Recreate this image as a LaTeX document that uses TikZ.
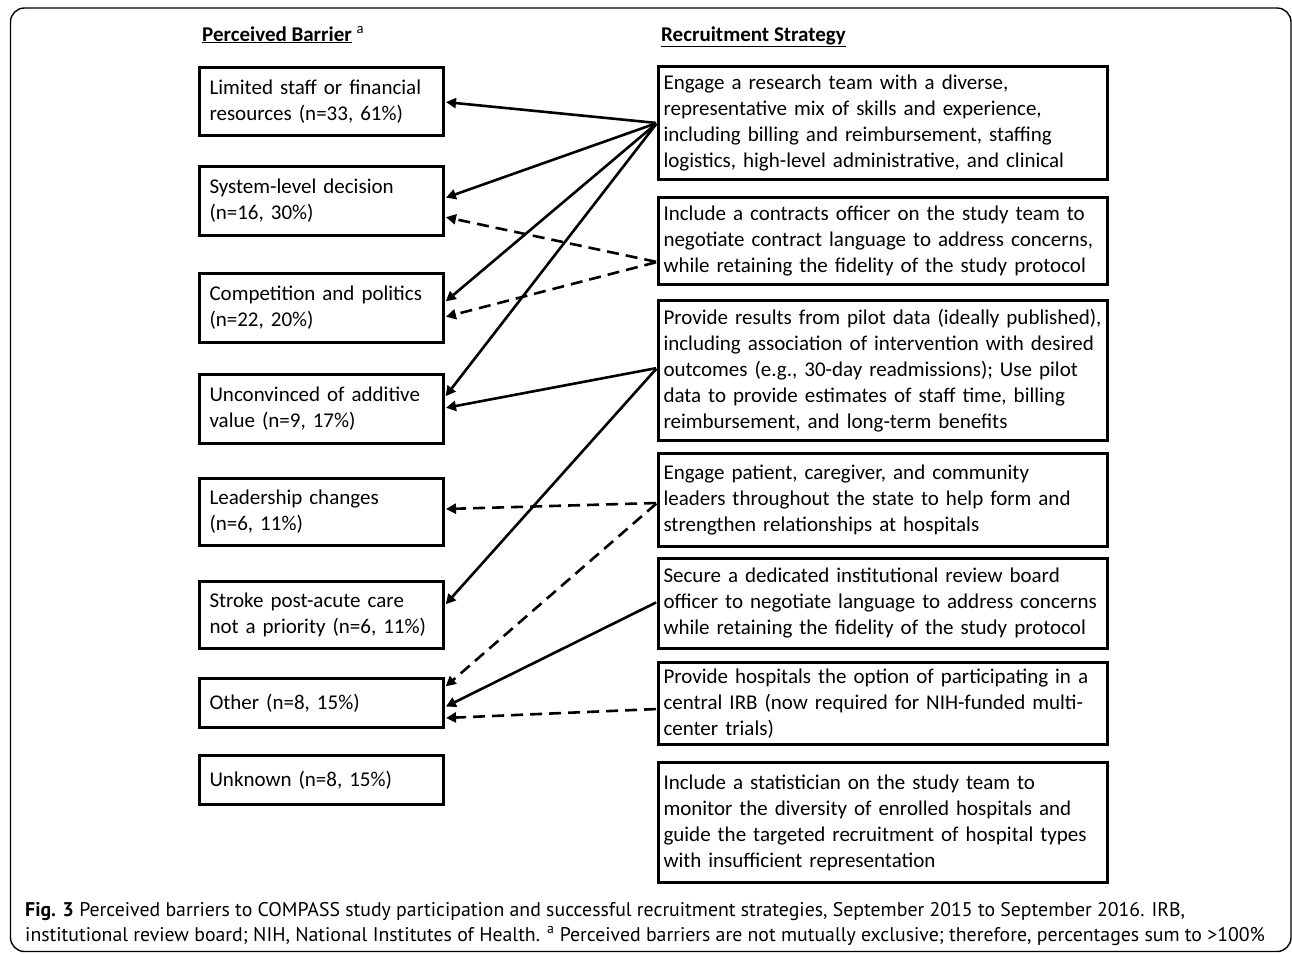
\documentclass[tikz,border=0pt]{standalone}
\usepackage{fontspec}
\setmainfont{Carlito}
\newfontfamily\capfont{PT Sans}
\usetikzlibrary{arrows.meta}
\begin{document}
\begin{tikzpicture}[x=1pt,y=-1pt,
  boxfont/.style={font=\fontsize{21}{26}\selectfont},
  lbox/.style={draw, line width=3pt, rectangle, align=left, text width=224pt,
    inner xsep=10pt, inner ysep=0pt, boxfont, anchor=north west},
  rbox/.style={draw, line width=3pt, rectangle, align=left, text width=439pt,
    inner xsep=5pt, inner ysep=0pt, boxfont, anchor=north west},
  head/.style={font=\fontsize{21}{24}\selectfont, anchor=base west, inner sep=0pt},
  capline/.style={font=\capfont\fontsize{19.8}{24}\selectfont, anchor=base west, inner sep=0pt},
  link/.style={line width=2.6pt, -{Triangle[length=10pt,width=10pt]}, shorten >=1pt, shorten <=1pt},
  dlink/.style={link, dash pattern=on 12pt off 7pt},
]
\useasboundingbox (0,0) rectangle (1292,954);
\draw[line width=1.4pt, rounded corners=14pt] (10.5,8) rectangle (1291,951.5);

% headers
\node[head] (hl) at (202,41) {\textbf{\underline{Perceived Barrier}} \textsuperscript{a}};
\node[head] (hr) at (661,41) {\textbf{\underline{Recruitment Strategy}}};

% left boxes
\node[lbox, minimum height=68pt] (l1) at (198,66) {Limited staff or financial\\resources (n=33, 61\%)};
\node[lbox, minimum height=69pt] (l2) at (198,165) {System-level decision\\(n=16, 30\%)};
\node[lbox, minimum height=69pt] (l3) at (198,272) {Competition and politics\\(n=22, 20\%)};
\node[lbox, minimum height=69pt] (l4) at (198,373) {Unconvinced of additive\\value (n=9, 17\%)};
\node[lbox, minimum height=67pt] (l5) at (198,477) {Leadership changes\\(n=6, 11\%)};
\node[lbox, minimum height=67pt] (l6) at (198,580) {Stroke post-acute care\\not a priority (n=6, 11\%)};
\node[lbox, minimum height=49pt] (l7) at (198,677) {Other (n=8, 15\%)};
\node[lbox, minimum height=49pt] (l8) at (198,754) {Unknown (n=8, 15\%)};

% right boxes
\node[rbox, minimum height=113pt] (r1) at (657,65) {Engage a research team with a diverse,\\representative mix of skills and experience,\\including billing and reimbursement, staffing\\logistics, high-level administrative, and clinical};
\node[rbox, minimum height=87pt] (r2) at (657,196) {Include a contracts officer on the study team to\\negotiate contract language to address concerns,\\while retaining the fidelity of the study protocol};
\node[rbox, minimum height=140pt] (r3) at (657,299) {Provide results from pilot data (ideally published),\\including association of intervention with desired\\outcomes (e.g., 30-day readmissions); Use pilot\\data to provide estimates of staff time, billing\\reimbursement, and long-term benefits};
\node[rbox, minimum height=93pt] (r4) at (657,452) {Engage patient, caregiver, and community\\leaders throughout the state to help form and\\strengthen relationships at hospitals};
\node[rbox, minimum height=90pt] (r5) at (657,557) {Secure a dedicated institutional review board\\officer to negotiate language to address concerns\\while retaining the fidelity of the study protocol};
\node[rbox, minimum height=82pt] (r6) at (657,661) {Provide hospitals the option of participating in a\\central IRB (now required for NIH-funded multi-\\center trials)};
\node[rbox, minimum height=120pt] (r7) at (657,761) {Include a statistician on the study team to\\monitor the diversity of enrolled hospitals and\\guide the targeted recruitment of hospital types\\with insufficient representation};

% connectors
\draw[link] (r1.west) -- (l1.east |- 0,102);
\draw[link] (r1.west) -- (l2.east |- 0,198);
\draw[link] (r1.west) -- (l3.east |- 0,302);
\draw[link] (r1.west) -- (l4.east |- 0,397);
\draw[dlink] (r2.west |- 0,262) -- (l2.east |- 0,217);
\draw[dlink] (r2.west |- 0,262) -- (l3.east |- 0,317);
\draw[link] (r3.west |- 0,368) -- (l4.east |- 0,408);
\draw[link] (r3.west |- 0,368) -- (l6.east |- 0,605);
\draw[dlink] (r4.west |- 0,503) -- (l5.east |- 0,509);
\draw[dlink] (r4.west |- 0,503) -- (l7.east |- 0,687);
\draw[link] (r5.west |- 0,602) -- (l7.east |- 0,707);
\draw[dlink] (r6.west |- 0,709) -- (l7.east |- 0,718);

% caption
\node[capline] (c1) at (25,916) {\textbf{Fig. 3} Perceived barriers to COMPASS study participation and successful recruitment strategies, September 2015 to September 2016. IRB,};
\node[capline] (c2) at (25,941) {institutional review board; NIH, National Institutes of Health. \textsuperscript{a} Perceived barriers are not mutually exclusive; therefore, percentages sum to >100\%};
\end{tikzpicture}
\end{document}
